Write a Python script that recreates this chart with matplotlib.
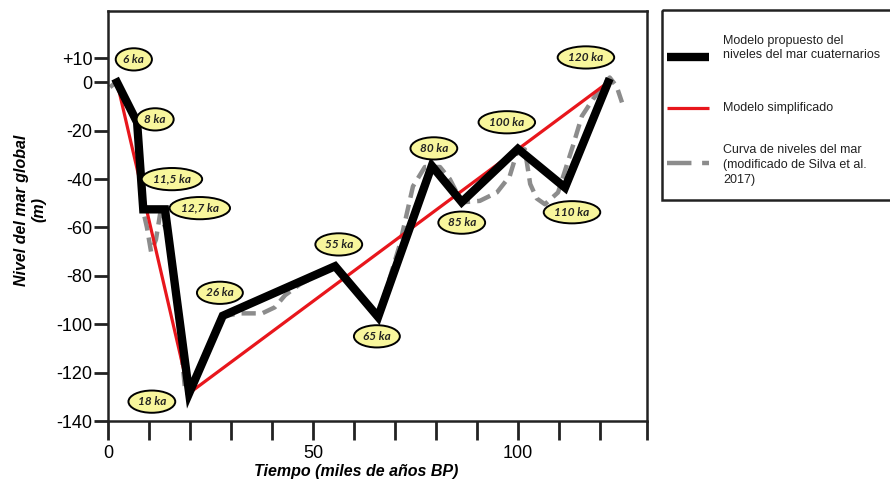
import numpy as np
import matplotlib.pyplot as plt
from matplotlib.patches import Rectangle
from matplotlib.lines import Line2D

# modelo propuesto (linea negra)
model_x = [2.2, 7.1, 8.6, 13.9, 19.8, 28.0, 55.4, 65.9, 79.0, 86.3, 100.0, 111.5, 122.0]
model_y = [0, -16.5, -52.5, -52.5, -128.5, -96.5, -76, -97, -34.5, -49.5, -27.5, -43.5, 0]

# modelo simplificado (linea roja)
simple_x = [2.2, 19.8, 122.0]
simple_y = [0, -128.5, 0]

# curva de niveles del mar (Silva et al. 2017)
curve_x = [0.5, 2.2, 7.1, 8.5, 9.5, 10.5, 11.7, 12.7, 15.1, 17.6, 18.8, 19.5, 23.7, 28.0,
           32.2, 37.6, 40.7, 43.2, 46.8, 55.4, 65.9, 71.2, 74.4, 77.3, 81.0, 83.4, 86.3,
           90.7, 94.9, 98.0, 100.0, 101.7, 103.0, 104.6, 106.6, 109.8, 113.4, 115.6,
           118.3, 122.4, 124.1, 125.4]
curve_y = [-2, 0.4, -16.5, -52.5, -60, -70, -65, -54.5, -65, -106, -127, -129, -112, -96.7,
           -95.5, -95.5, -93, -88, -83.5, -76, -97, -67, -43, -35, -35, -40, -49.6,
           -49, -45.5, -38.8, -27.7, -27.7, -42, -48, -50.4, -45.5, -26.4, -14,
           -7, 2, -1.7, -8.3]

labels = ['6 ka', '8 ka', '11,5 ka', '12,7 ka', '18 ka', '26 ka', '55 ka', '65 ka',
          '80 ka', '85 ka', '100 ka', '110 ka', '120 ka']
label_x = [6.3, 11.5, 15.6, 22.4, 10.7, 27.3, 56.3, 65.6, 79.5, 86.3, 97.3, 113.2, 116.6]
label_y = [9.5, -15.3, -40, -52, -132, -87, -67, -105, -27.3, -58, -16.5, -53.7, 10.3]

yticks = [10, 0, -20, -40, -60, -80, -100, -120, -140]
ytick_labels = ['+10', '0', '-20', '-40', '-60', '-80', '-100', '-120', '-140']

plt.rcParams['font.family'] = ['Liberation Sans', 'DejaVu Sans']

fig = plt.figure(figsize=(8.9, 4.84), dpi=100)
ax = fig.add_axes([108/890, 63/484, 539/890, 410/484])

ax.plot(curve_x, curve_y, color='#8c8c8c', lw=3.2, ls=(0, (3.2, 1.6)), zorder=2)
ax.plot(simple_x, simple_y, color='#e8161c', lw=2.3, zorder=3)
ax.plot(model_x, model_y, color='black', lw=6, solid_joinstyle='miter', zorder=4)

for t, x, y in zip(labels, label_x, label_y):
    ax.text(x, y, t, ha='center', va='center', fontsize=8.5, fontweight='bold',
            style='italic', color='#222222', family=['Lato', 'DejaVu Sans'], zorder=6,
            bbox=dict(boxstyle='ellipse,pad=0.2', fc='#f8f69c', ec='black', lw=1.4))

ax.set_xlim(0, 131.5)
ax.set_ylim(-140, 29.5)
ax.set_xticks([0, 10, 20, 30, 40, 50, 60, 70, 80, 90, 100, 110, 120, 131.5])
ax.set_xticklabels(['0', '', '', '', '', '50', '', '', '', '', '100', '', '', ''])
ax.set_yticks(yticks)
ax.set_yticklabels(ytick_labels)
ax.tick_params(axis='x', length=14, width=2, labelsize=13, pad=3, color='#222222')
ax.tick_params(axis='y', length=10, width=2, labelsize=13, pad=1, color='#222222')
for s in ax.spines.values():
    s.set_linewidth(1.8)
    s.set_color('#222222')

ax.set_xlabel('Tiempo (miles de años BP)', fontsize=11.5, fontweight='bold',
              style='italic')
ax.xaxis.set_label_coords(0.46, -0.105)
ax.set_ylabel('Nivel del mar global\n(m)', fontsize=11.5, fontweight='bold',
              style='italic', linespacing=1.2)
ax.yaxis.set_label_coords(-0.115, 0.515)

# leyenda
lg = fig.add_axes([0, 0, 1, 1], facecolor='none')
lg.set_xlim(0, 890)
lg.set_ylim(484, 0)
lg.axis('off')
lg.add_patch(Rectangle((662, 10), 240, 190, fill=False, ec='#222222', lw=1.8, clip_on=False))
lg.add_line(Line2D([667, 709], [57, 57], color='black', lw=6, solid_capstyle='butt'))
lg.add_line(Line2D([667, 709], [108, 108], color='#e8161c', lw=2.3, solid_capstyle='butt'))
lg.add_line(Line2D([667, 709], [163, 163], color='#8c8c8c', lw=3.2, ls=(0, (5.5, 2.4))))
txt = dict(fontsize=9, color='#222222', va='center', ha='left')
lg.text(723, 48, 'Modelo propuesto del\nniveles del mar cuaternarios', linespacing=1.3, **txt)
lg.text(723, 108, 'Modelo simplificado', **txt)
lg.text(723, 165, 'Curva de niveles del mar\n(modificado de Silva et al.\n2017)', linespacing=1.3, **txt)

fig.savefig('out.png', dpi=100)
